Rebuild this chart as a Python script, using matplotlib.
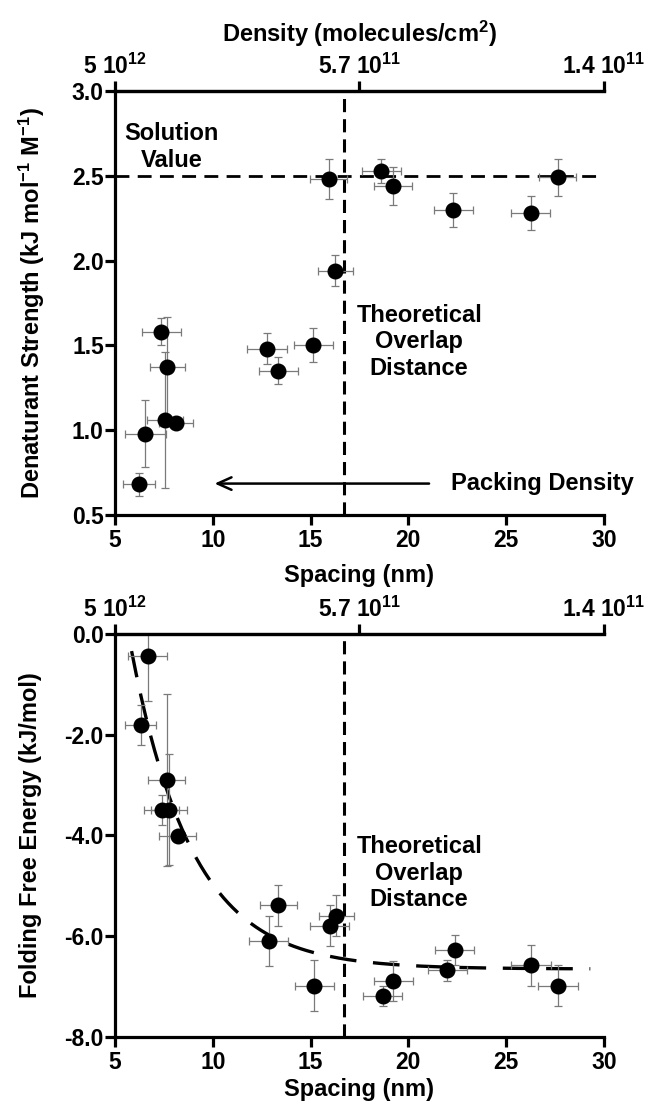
import numpy as np
import matplotlib
matplotlib.use('Agg')
import matplotlib.pyplot as plt

plt.rcParams['font.family'] = ['Liberation Sans', 'DejaVu Sans']
plt.rcParams['font.weight'] = 'bold'
plt.rcParams['mathtext.fontset'] = 'custom'
plt.rcParams['mathtext.rm'] = 'Liberation Sans:bold'
plt.rcParams['mathtext.default'] = 'rm'

# Top panel: denaturant strength vs spacing
top_spacing = [6.23, 6.55, 7.36, 7.56, 7.68, 8.12, 12.77, 13.35, 15.14, 15.92,
               16.26, 18.62, 19.2, 22.3, 26.25, 27.63]
top_strength = [0.68, 0.98, 1.58, 1.06, 1.37, 1.04, 1.48, 1.35, 1.50, 2.48,
                1.94, 2.53, 2.44, 2.30, 2.28, 2.49]
top_xerr = [0.8, 1.05, 1.0, 0.9, 0.9, 0.85, 1.0, 1.0, 1.0, 0.95,
            0.9, 1.0, 0.96, 1.0, 1.0, 0.95]
top_yerr = [0.07, 0.2, 0.08, 0.4, 0.3, 0.03, 0.09, 0.08, 0.1, 0.12,
            0.09, 0.07, 0.11, 0.1, 0.1, 0.11]

# Bottom panel: folding free energy vs spacing
bot_spacing = [6.31, 6.67, 7.39, 7.64, 7.76, 8.21, 12.85, 13.36, 15.2, 15.97,
               16.31, 18.69, 19.23, 21.98, 22.38, 26.27, 27.65]
bot_energy = [-1.81, -0.43, -3.49, -2.9, -3.49, -4.02, -6.09, -5.39, -6.98, -5.79,
              -5.59, -7.19, -6.89, -6.68, -6.28, -6.58, -6.98]
bot_xerr = [0.8, 1.0, 0.9, 0.95, 0.9, 0.95, 1.0, 0.97, 1.0, 1.0,
            0.9, 1.0, 1.0, 1.0, 1.0, 1.0, 1.0]
bot_yerr = [0.39, 0.9, 0.3, 1.7, 1.1, 0.1, 0.5, 0.4, 0.5, 0.4,
            0.4, 0.2, 0.39, 0.2, 0.3, 0.4, 0.4]

# exponential fit shown in bottom panel
fit_plateau = -6.65
fit_amp = 6.31
fit_x0 = 5.85
fit_decay = 3.14
fit_xmax = 29.3

solution_value = 2.5
overlap_distance = 16.7

density_pos = [5, 17.5, 30]
density_labels = ['5 10$^{12}$', '5.7 10$^{11}$', '1.4 10$^{11}$']

FS_TICK = 16.5
FS_LAB = 17
FS_TXT = 17

fig = plt.figure(figsize=(6.47, 11.06), dpi=100)
ax1 = fig.add_axes([0.1777, 0.5344, 0.7558, 0.3834])
ax2 = fig.add_axes([0.1777, 0.0624, 0.7558, 0.3644])


def style_axes(ax, ylim, yticks, ylabel, ylabel_x, xlabel_pad):
    ax.set_xlim(5, 30)
    ax.set_ylim(*ylim)
    ax.set_xticks([5, 10, 15, 20, 25, 30])
    ax.set_yticks(yticks)
    ax.set_yticklabels(['%.1f' % t for t in yticks])
    ax.spines['right'].set_visible(False)
    for s in ['left', 'bottom', 'top']:
        ax.spines[s].set_linewidth(2.3)
    ax.tick_params(axis='x', width=2.3, length=7, labelsize=FS_TICK,
                   direction='out', pad=3)
    ax.tick_params(axis='y', width=2.3, length=7, labelsize=FS_TICK,
                   direction='out', pad=1)
    ax.set_xlabel('Spacing (nm)', fontsize=FS_LAB, fontweight='bold',
                  labelpad=xlabel_pad)
    ax.set_ylabel(ylabel, fontsize=FS_LAB, fontweight='bold')
    ax.yaxis.set_label_coords(ylabel_x, 0.5)

    top = ax.twiny()
    top.set_xlim(5, 30)
    top.set_xticks(density_pos)
    top.set_xticklabels(density_labels)
    for s in ['left', 'right', 'bottom']:
        top.spines[s].set_visible(False)
    top.spines['top'].set_linewidth(2.3)
    top.tick_params(width=2.3, length=7, labelsize=FS_TICK, direction='out', pad=2)
    return top


def draw_points(ax, x, y, xe, ye):
    ax.errorbar(x, y, xerr=xe, yerr=ye, fmt='none', ecolor='#7a7a7a',
                elinewidth=0.9, capsize=2.8, capthick=0.9, zorder=3)
    ax.plot(x, y, 'o', color='black', markersize=10.5, zorder=4)


# top panel
top1 = style_axes(ax1, (0.5, 3.0), [0.5, 1.0, 1.5, 2.0, 2.5, 3.0],
                  'Denaturant Strength (kJ mol$^{-1}$ M$^{-1}$)', -0.14, 9)
top1.set_xlabel('Density (molecules/cm$^2$)', fontsize=FS_LAB, fontweight='bold',
                labelpad=8)
ax1.plot([5, 29.6], [solution_value, solution_value], color='black', lw=2,
         dashes=(5, 3), zorder=2)
ax1.axvline(overlap_distance, color='black', lw=2.2, dashes=(4.3, 2.3), zorder=2)
draw_points(ax1, top_spacing, top_strength, top_xerr, top_yerr)
ax1.text(7.9, 2.67, 'Solution\nValue', ha='center', va='center',
         fontsize=FS_TXT, fontweight='bold')
ax1.text(20.55, 1.52, 'Theoretical\nOverlap\nDistance', ha='center', va='center',
         fontsize=FS_TXT, fontweight='bold')
ax1.annotate('', xy=(9.95, 0.685), xytext=(21.2, 0.685),
             arrowprops=dict(arrowstyle='->,head_length=1.0,head_width=0.45',
                             color='black', lw=1.8))
ax1.text(22.2, 0.685, 'Packing Density', ha='left', va='center',
         fontsize=FS_TXT, fontweight='bold', clip_on=False)

# bottom panel
style_axes(ax2, (-8.0, 0.0), [-8.0, -6.0, -4.0, -2.0, 0.0],
           'Folding Free Energy (kJ/mol)', -0.15, 3)
ax2.axvline(overlap_distance, color='black', lw=2.2, dashes=(4.3, 2.3), zorder=2)
fx = np.linspace(fit_x0, fit_xmax, 300)
fy = fit_plateau + fit_amp * np.exp(-(fx - fit_x0) / fit_decay)
ax2.plot(fx, fy, color='black', lw=2.4, dashes=(8, 5), zorder=2)
draw_points(ax2, bot_spacing, bot_energy, bot_xerr, bot_yerr)
ax2.text(20.55, -4.75, 'Theoretical\nOverlap\nDistance', ha='center', va='center',
         fontsize=FS_TXT, fontweight='bold')

fig.savefig('out.png', dpi=100)
